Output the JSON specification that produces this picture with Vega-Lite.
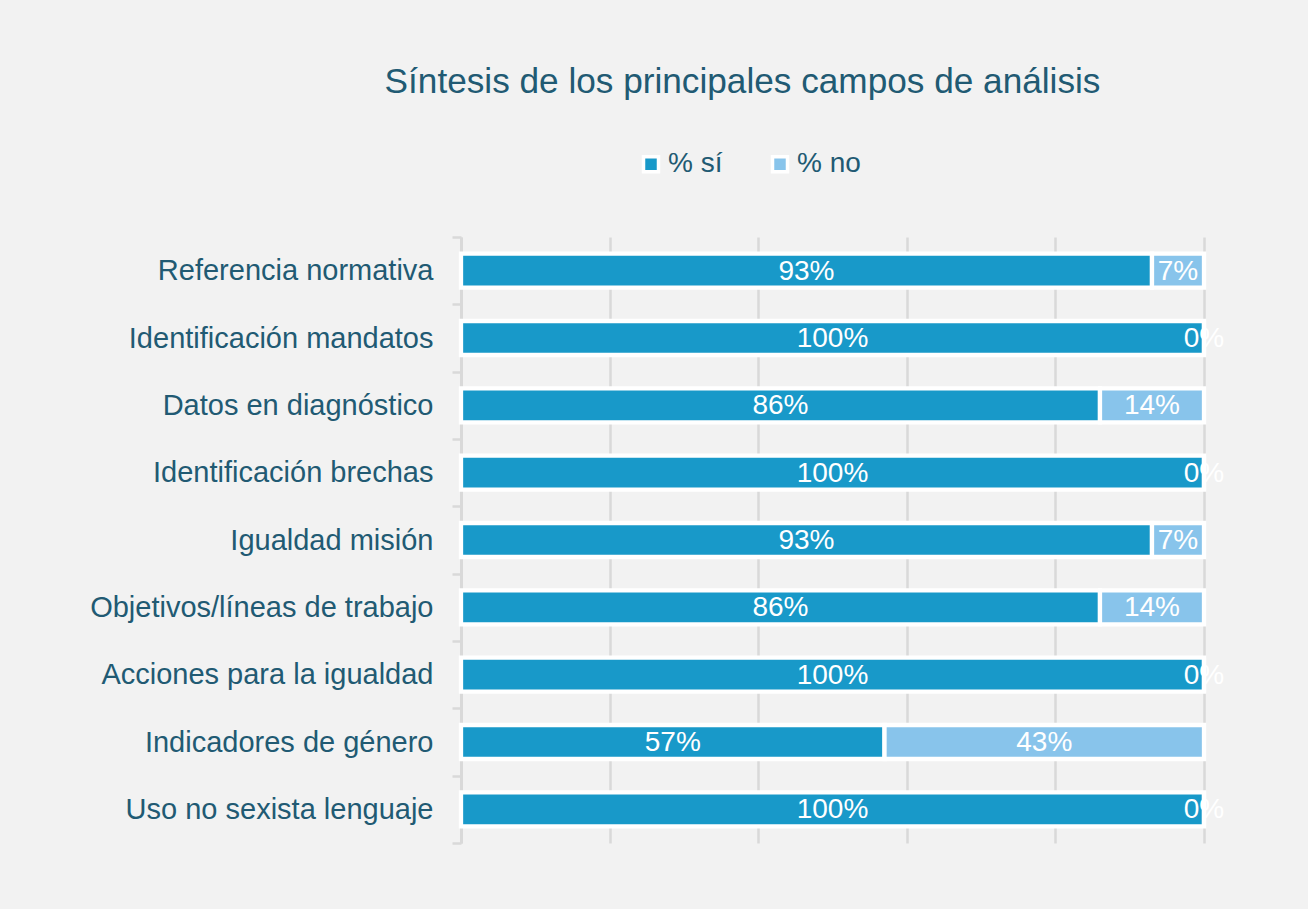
{
  "$schema": "https://vega.github.io/schema/vega-lite/v6.json",
  "width": 743,
  "height": 606,
  "autosize": {"type": "none"},
  "padding": {"left": 461, "top": 237, "right": 104, "bottom": 66},
  "background": "#f2f2f2",
  "title": {
    "text": "Síntesis de los principales campos de análisis",
    "font": "Liberation Sans",
    "fontSize": 35.2,
    "fontWeight": "normal",
    "color": "#215a73",
    "anchor": "middle",
    "dx": -90,
    "offset": 50
  },
  "data": {
    "values": [
      {"campo": "Referencia normativa", "serie": "% sí", "orden": 1, "valor": 0.93},
      {"campo": "Referencia normativa", "serie": "% no", "orden": 2, "valor": 0.07},
      {"campo": "Identificación mandatos", "serie": "% sí", "orden": 1, "valor": 1.0},
      {"campo": "Identificación mandatos", "serie": "% no", "orden": 2, "valor": 0.0},
      {"campo": "Datos en diagnóstico", "serie": "% sí", "orden": 1, "valor": 0.86},
      {"campo": "Datos en diagnóstico", "serie": "% no", "orden": 2, "valor": 0.14},
      {"campo": "Identificación brechas", "serie": "% sí", "orden": 1, "valor": 1.0},
      {"campo": "Identificación brechas", "serie": "% no", "orden": 2, "valor": 0.0},
      {"campo": "Igualdad misión", "serie": "% sí", "orden": 1, "valor": 0.93},
      {"campo": "Igualdad misión", "serie": "% no", "orden": 2, "valor": 0.07},
      {"campo": "Objetivos/líneas de trabajo", "serie": "% sí", "orden": 1, "valor": 0.86},
      {"campo": "Objetivos/líneas de trabajo", "serie": "% no", "orden": 2, "valor": 0.14},
      {"campo": "Acciones para la igualdad", "serie": "% sí", "orden": 1, "valor": 1.0},
      {"campo": "Acciones para la igualdad", "serie": "% no", "orden": 2, "valor": 0.0},
      {"campo": "Indicadores de género", "serie": "% sí", "orden": 1, "valor": 0.57},
      {"campo": "Indicadores de género", "serie": "% no", "orden": 2, "valor": 0.43},
      {"campo": "Uso no sexista lenguaje", "serie": "% sí", "orden": 1, "valor": 1.0},
      {"campo": "Uso no sexista lenguaje", "serie": "% no", "orden": 2, "valor": 0.0}
    ]
  },
  "config": {
    "view": {"stroke": null},
    "font": "Liberation Sans"
  },
  "layer": [
    {
      "mark": {"type": "bar", "stroke": "white", "strokeWidth": 4.3, "height": {"band": 0.505}},
      "encoding": {
        "y": {
          "field": "campo",
          "type": "nominal",
          "sort": ["Referencia normativa", "Identificación mandatos", "Datos en diagnóstico", "Identificación brechas", "Igualdad misión", "Objetivos/líneas de trabajo", "Acciones para la igualdad", "Indicadores de género", "Uso no sexista lenguaje"],
          "scale": {"paddingInner": 0, "paddingOuter": 0},
          "axis": {
            "title": null,
            "labelFont": "Liberation Sans",
            "labelFontSize": 29,
            "labelColor": "#215a73",
            "labelPadding": 19,
            "labelLimit": 500,
            "tickBand": "extent",
            "tickSize": 9,
            "tickColor": "#d9d9d9",
            "tickWidth": 2.5,
            "domainColor": "#d9d9d9",
            "domainWidth": 3,
            "grid": false
          }
        },
        "x": {
          "field": "valor",
          "type": "quantitative",
          "stack": "zero",
          "scale": {"domain": [0, 1], "nice": false},
          "axis": {
            "title": null,
            "labels": false,
            "ticks": false,
            "domain": false,
            "grid": true,
            "values": [0, 0.2, 0.4, 0.6, 0.8, 1],
            "gridColor": "#d9d9d9",
            "gridWidth": 2.5
          }
        },
        "color": {
          "field": "serie",
          "type": "nominal",
          "scale": {"domain": ["% sí", "% no"], "range": ["#1899c9", "#88c4eb"]},
          "legend": {
            "title": null,
            "orient": "none",
            "direction": "horizontal",
            "legendX": 176,
            "legendY": -87,
            "symbolType": "square",
            "symbolSize": 225,
            "symbolStrokeColor": "white",
            "symbolStrokeWidth": 3.5,
            "symbolOpacity": 1,
            "labelFont": "Liberation Sans",
            "labelFontSize": 28,
            "labelColor": "#215a73",
            "labelOffset": 3,
            "columnPadding": 42
          }
        },
        "order": {"field": "orden", "type": "quantitative"}
      }
    },
    {
      "transform": [
        {"stack": "valor", "groupby": ["campo"], "sort": [{"field": "orden"}], "as": ["v0", "v1"]},
        {"fold": ["v0", "v1"], "as": ["k", "pos"]}
      ],
      "mark": {"type": "text", "color": "white", "font": "Liberation Sans", "fontSize": 28, "baseline": "middle", "align": "center", "dy": 1},
      "encoding": {
        "y": {
          "field": "campo",
          "type": "nominal",
          "sort": ["Referencia normativa", "Identificación mandatos", "Datos en diagnóstico", "Identificación brechas", "Igualdad misión", "Objetivos/líneas de trabajo", "Acciones para la igualdad", "Indicadores de género", "Uso no sexista lenguaje"]
        },
        "x": {"aggregate": "mean", "field": "pos", "type": "quantitative"},
        "detail": {"field": "serie", "type": "nominal"},
        "text": {"aggregate": "max", "field": "valor", "type": "quantitative", "format": ".0%"}
      }
    }
  ]
}
